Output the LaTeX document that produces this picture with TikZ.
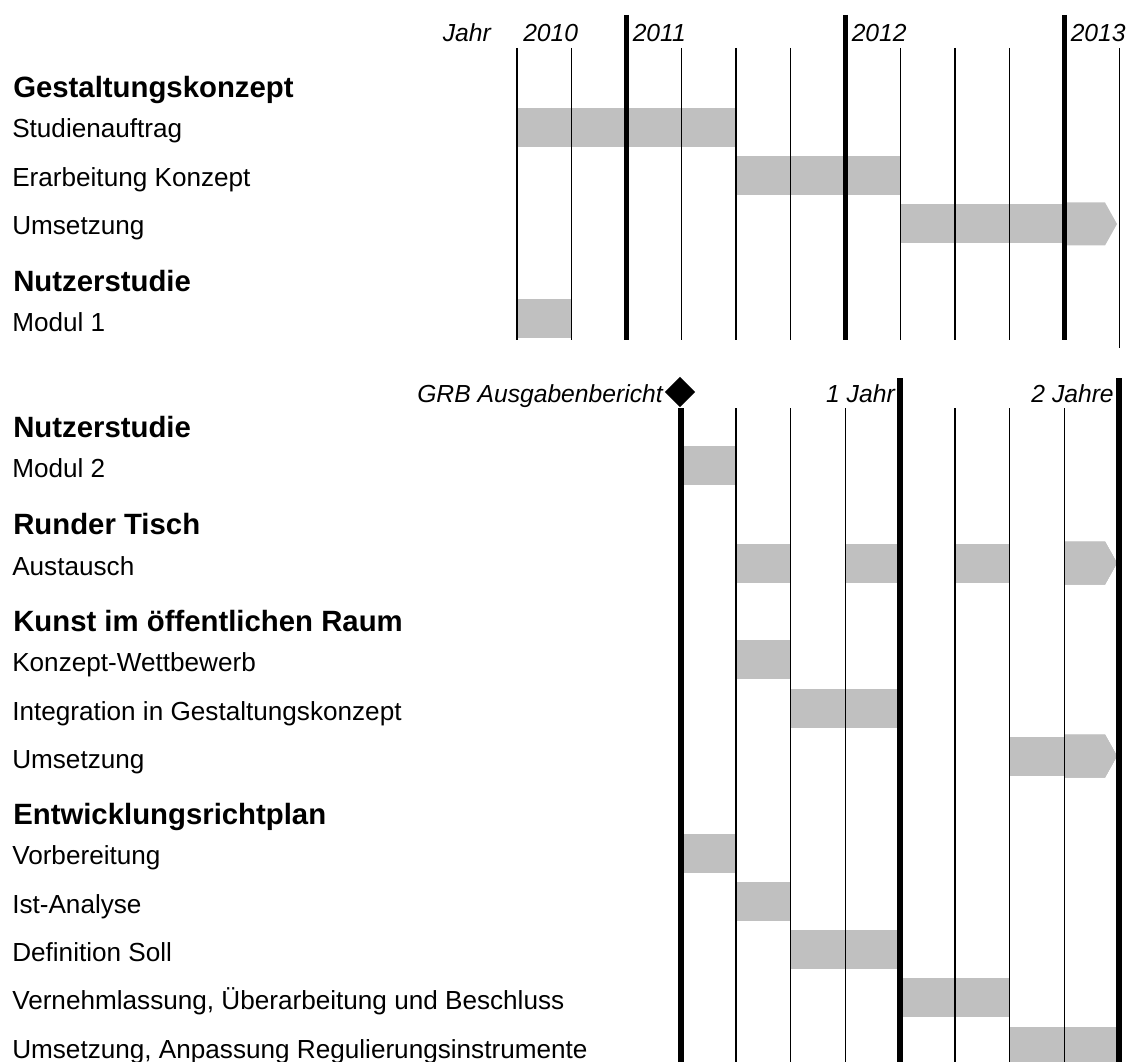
\documentclass[tikz,border=0pt]{standalone}
\usepackage{fontspec}
\setmainfont{Liberation Sans}
\usetikzlibrary{shapes.geometric}
\definecolor{balkengrau}{HTML}{C0C0C0}
% x-Position der Spalte #1
\newcommand{\spx}[1]{517+#1*54.75}
% Balken von Spalte #1 bis #2, Zeilenmitte #3
\newcommand{\balken}[3]{\fill[balkengrau] ({\spx{#1}},#3-19.5) rectangle ({\spx{#2}},#3+19.5);}
% Pfeil in der letzten Spalte, Zeilenmitte #1
\newcommand{\pfeil}[1]{\fill[balkengrau] ({\spx{10}},#1-21.5) -- (1105,#1-21.5) -- (1117,#1) -- (1105,#1+21.5) -- ({\spx{10}},#1+21.5) -- cycle;}
\begin{document}
\begin{tikzpicture}[x=0.75pt, y=-0.75pt, line cap=butt,
    font=\fontsize{19.6}{22}\selectfont,
    zeile/.style={anchor=base west, inner sep=0pt},
    kopf/.style={anchor=base west, inner sep=0pt, font=\fontsize{22}{24}\selectfont\bfseries},
    zeit/.style={anchor=base west, inner sep=0pt, font=\fontsize{18.5}{20}\selectfont\itshape},
    zeitr/.style={zeit, anchor=base east},
    duenn/.style={line width=0.9pt},
    dick/.style={line width=4.2pt}]
    \useasboundingbox (0,0) rectangle (1127,1062);
    %% oberer Teil
    \node[kopf] (gestaltung) at (13,98) {Gestaltungskonzept};
    \node[zeile] (studien) at (12,138) {Studienauftrag};
    \node[zeile] (erarbeitung) at (12,187) {Erarbeitung Konzept};
    \node[zeile] (umsetzungA) at (12,235) {Umsetzung};
    \node[kopf] (nutzerA) at (13,292) {Nutzerstudie};
    \node[zeile] (modulA) at (12,331) {Modul 1};
    \balken{0}{4}{127.5}
    \balken{4}{7}{176}
    \balken{7}{10}{224}
    \pfeil{224}
    \balken{0}{1}{319}
    \foreach \i in {0,1,3,4,5,7,8,9}
        \draw[duenn] ({\spx{\i}},48) -- ({\spx{\i}},340);
    \draw[duenn] ({\spx{11}},48) -- ({\spx{11}},348);
    \foreach \i in {2,6,10}
        \draw[dick] ({\spx{\i}},15) -- ({\spx{\i}},340);
    \node[zeitr] (jahr) at (491,42) {Jahr};
    \foreach \i/\j in {0/2010,2/2011,6/2012,10/2013}
        \node[zeit] (j\j) at ({\spx{\i}+6},42) {\j};
    %% unterer Teil
    \node[kopf] (nutzerB) at (13,437) {Nutzerstudie};
    \node[zeile] (modulB) at (12,477) {Modul 2};
    \node[kopf] (tisch) at (13,534) {Runder Tisch};
    \node[zeile] (austausch) at (12,575) {Austausch};
    \node[kopf] (kunst) at (13,631) {Kunst im öffentlichen Raum};
    \node[zeile] (wettbewerb) at (12,671) {Konzept-Wettbewerb};
    \node[zeile] (integration) at (12,720) {Integration in Gestaltungskonzept};
    \node[zeile] (umsetzungB) at (12,768) {Umsetzung};
    \node[kopf] (richtplan) at (13,824) {Entwicklungsrichtplan};
    \node[zeile] (vorbereitung) at (12,864) {Vorbereitung};
    \node[zeile] (analyse) at (12,913) {Ist-Analyse};
    \node[zeile] (soll) at (12,961) {Definition Soll};
    \node[zeile] (vernehmlassung) at (12,1009) {Vernehmlassung, Überarbeitung und Beschluss};
    \node[zeile] (umsetzungC) at (12,1058) {Umsetzung, Anpassung Regulierungsinstrumente};
    \balken{3}{4}{465}
    \foreach \i/\k in {4/5,6/7,8/9}
        \balken{\i}{\k}{563}
    \pfeil{563}
    \balken{4}{5}{659}
    \balken{5}{7}{708}
    \balken{9}{10}{756}
    \pfeil{756}
    \balken{3}{4}{853}
    \balken{4}{5}{901}
    \balken{5}{7}{949}
    \balken{7}{9}{997}
    \balken{9}{11}{1046}
    \foreach \i in {4,5,6,8,9,10}
        \draw[duenn] ({\spx{\i}},408) -- ({\spx{\i}},1062);
    \draw[dick] ({\spx{3}},408) -- ({\spx{3}},1062);
    \foreach \i in {7,11}
        \draw[dick] ({\spx{\i}},378) -- ({\spx{\i}},1062);
    \node[diamond, fill=black, inner sep=0pt, minimum width=23pt, minimum height=23pt] (meilenstein) at (680,392) {};
    \node[zeitr] (grb) at (663,402) {GRB Ausgabenbericht};
    \node[zeitr] (einjahr) at (895,402) {1 Jahr};
    \node[zeitr] (zweijahre) at (1114,402) {2 Jahre};
\end{tikzpicture}
\end{document}
